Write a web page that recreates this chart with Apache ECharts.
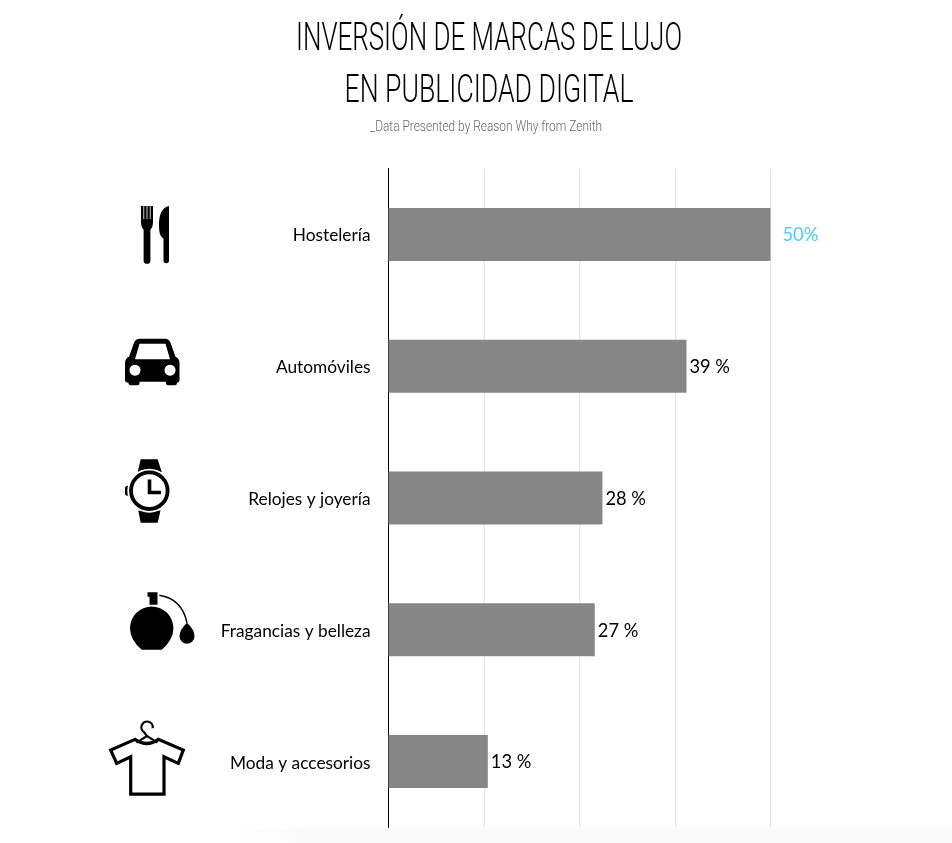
<!DOCTYPE html>
<html>
<head>
<meta charset="utf-8">
<style>
  html, body { margin: 0; padding: 0; background: #fff; }
  #chart { width: 952px; height: 843px; }
</style>
<script src="https://cdn.jsdelivr.net/npm/echarts@6/dist/echarts.min.js"></script>
</head>
<body>
<div id="chart"></div>
<script>
var titleLines = ["INVERSIÓN DE MARCAS DE LUJO", "EN PUBLICIDAD DIGITAL"];
var subtitleText = "_Data Presented by Reason Why from Zenith";
var categories = ["Hostelería", "Automóviles", "Relojes y joyería", "Fragancias y belleza", "Moda y accesorios"];
var values = [50, 39, 28, 27, 13];
var valueLabels = ["50%", "39 %", "28 %", "27 %", "13 %"];

// iconos dibujados a mano, caja local de 100x90
var icons = [
  '<path d="M41 11.5h2.4v13h.8V11.5h2.4v13h.8V11.5h2.4v13h.8V11.5H53V27q0 6-2.6 8v31a3.4 3.4 0 0 1-6.8 0V35Q41 33 41 27z"/>' +
  '<path d="M69 11.5V66a2.75 2.75 0 0 1-5.5 0V44C60 42 59 38 59 30 59 20 62 13 69 11.5z"/>',

  '<path fill-rule="evenodd" d="M40 12.5H65Q69 12.5 70.5 16.5L75.5 30.5Q79.5 32 79.5 37V54Q79.5 56 77 56.5V57Q77 59 75 59H68Q66 59 66 57V55.5H39.5V57Q39.5 59 37.5 59H30.5Q28.5 59 28.5 57V56.5Q25 56 25 54V37Q25 32 29 30.5L34 16.5Q35.5 12.5 40 12.5z' +
  'M39.5 17.5L35 33H70L65.5 17.5zM35 38.5a5.5 5.5 0 1 0 .01 0zM70 38.5a5.5 5.5 0 1 0 .01 0z"/>',

  '<path d="M40.7 1.3H57.7L61.7 14H37.7zM38.3 52.5H60.5L57.7 64.7H40.7z"/>' +
  '<rect x="25" y="27.7" width="7" height="10" rx="2.5"/>' +
  '<circle cx="49.3" cy="32.7" r="22" fill="#fff"/>' +
  '<circle cx="49.3" cy="32.7" r="18.3" fill="#fff" stroke="#000" stroke-width="3.8"/>' +
  '<path d="M49.5 21.5V34.5H61" fill="none" stroke="#000" stroke-width="3.6"/>',

  '<path d="M47.5 2.5H57.5V15H49.5V7H47.5z"/>' +
  '<path d="M41.7 60Q30 50 30 38.4A21.7 21.7 0 0 1 73.4 38.4Q73.4 50 61.7 60z"/>' +
  '<path d="M59.3 5.5Q82 9 87 33" fill="none" stroke="#000" stroke-width="1.4"/>' +
  '<path d="M87 33Q94.5 40 94.5 46.5A7.5 7.5 0 0 1 79.5 46.5Q79.5 40 87 33z"/>',

  '<path fill="none" stroke="#000" stroke-width="3.2" stroke-linejoin="miter" d="M35 17.8L10.7 28.5 16.7 41.8 30.7 35.2V72.5H64V35.2L78.3 41.8 83.3 28.5 58.3 17.8Q47 26 35 17.8z"/>' +
  '<path fill="none" stroke="#000" stroke-width="2.2" d="M52.7 6.5A5.7 5.7 0 1 0 44 10.5L47 14.5M36.5 21L47 14.5 57.5 21"/>'
];

function iconUrl(body) {
  return "data:image/svg+xml;charset=utf-8," + encodeURIComponent(
    '<svg xmlns="http://www.w3.org/2000/svg" width="100" height="90" viewBox="0 -5 100 90">' + body + "</svg>");
}

// texto estrecho: no hay Oswald, se comprime Roboto Light hasta el ancho del original
var measureCtx = document.createElement("canvas").getContext("2d");
function narrowText(text, centerX, centerY, fontSize, targetWidth, color) {
  var font = "300 " + fontSize + "px Roboto";
  measureCtx.font = font;
  return {
    type: "text", silent: true,
    x: centerX, y: centerY, scaleX: targetWidth / measureCtx.measureText(text).width,
    style: { text: text, font: font, fill: color, align: "center", verticalAlign: "middle" }
  };
}

var chart = echarts.init(document.getElementById("chart"), null, { renderer: "canvas" });

var option = {
  animation: false,
  backgroundColor: "#fff",
  textStyle: { fontFamily: "Lato" },
  grid: { left: 388.5, top: 168.5, width: 382, height: 659, containLabel: false },
  xAxis: {
    type: "value", min: 0, max: 50, interval: 12.5,
    axisLine: { show: false }, axisTick: { show: false }, axisLabel: { show: false },
    splitLine: { show: true, lineStyle: { color: "#e6e6e6", width: 1 } }
  },
  yAxis: {
    type: "category", data: categories, inverse: true,
    axisLine: { show: true, onZero: false, lineStyle: { color: "#000", width: 1 } },
    axisTick: { show: false },
    axisLabel: {
      margin: 18, color: "#000",
      formatter: function (v) { return "{a|" + v + "}"; },
      rich: { a: { fontFamily: "Lato", fontSize: 17.3, color: "#000", padding: [3, 0, 0, 0] } }
    }
  },
  series: [{
    type: "bar",
    barWidth: 53,
    itemStyle: { color: "#868686" },
    z: 1,
    data: values.map(function (v, i) {
      return {
        value: v,
        label: {
          show: true, position: "right", distance: i == 0 ? 12 : 3,
          offset: [0, 1],
          formatter: valueLabels[i],
          color: i == 0 ? "#4fcdf2" : "#000",
          fontFamily: "Lato", fontSize: 18.3
        }
      };
    })
  }]
};
chart.setOption(option);

// colocar iconos en la fila de cada categoria
var nodes = icons.map(function (body, i) {
  var rowY = chart.convertToPixel({ yAxisIndex: 0 }, categories[i]);
  return { type: "image", x: 100, y: rowY - 45, silent: true, style: { image: iconUrl(body), x: 0, y: 0, width: 100, height: 90 } };
});
nodes.push(narrowText(titleLines[0], 489, 40, 38, 386, "#000"));
nodes.push(narrowText(titleLines[1], 489, 92, 38, 289, "#000"));
nodes.push(narrowText(subtitleText, 486, 127, 15.5, 232, "#666"));
nodes.push({
  type: "rect", silent: true, z: -1,
  shape: { x: 230, y: 829, width: 722, height: 14 },
  style: { fill: new echarts.graphic.LinearGradient(0, 0, 1, 0, [
    { offset: 0, color: "#ffffff" }, { offset: 0.1, color: "#fafafa" }, { offset: 1, color: "#fafafa" }
  ]) }
});
chart.setOption({ graphic: nodes });
</script>
</body>
</html>
